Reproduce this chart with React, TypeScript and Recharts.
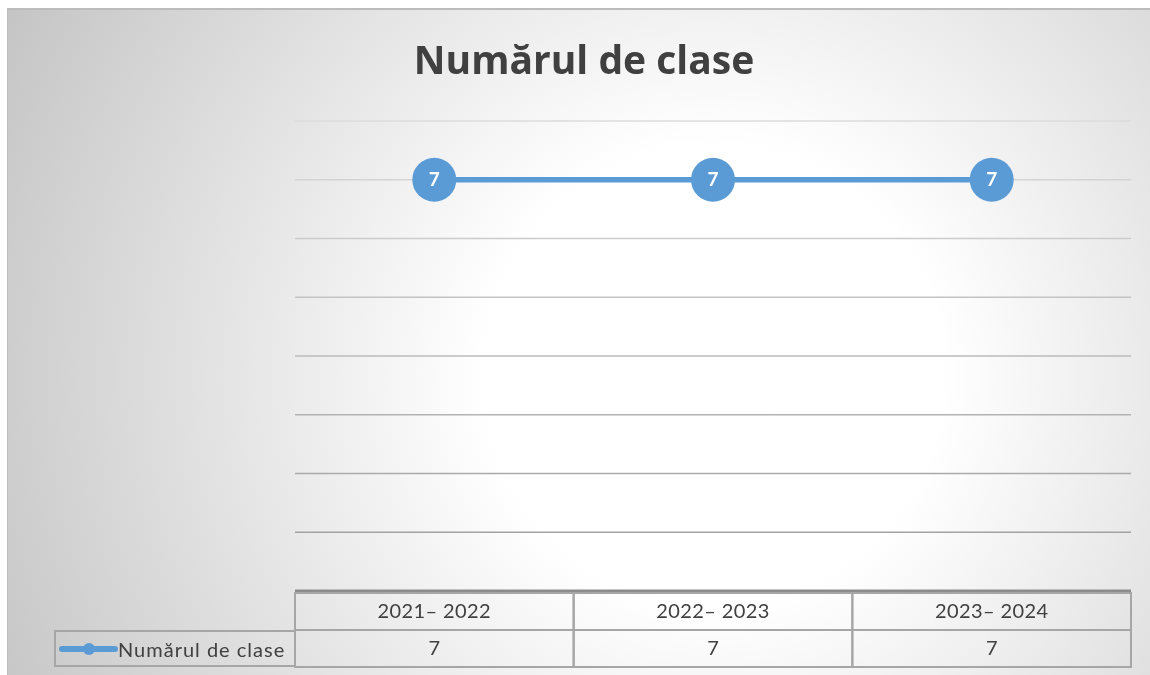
import { LineChart, Line, XAxis, YAxis, CartesianGrid, LabelList } from "recharts";

const title = "Numărul de clase";
const seriesName = "Numărul de clase";
const years = ["2021– 2022", "2022– 2023", "2023– 2024"];
const classCounts = [7, 7, 7];
const yTicks = [0, 1, 2, 3, 4, 5, 6, 7, 8];

const data = years.map((y, i) => ({ year: y, value: classCounts[i] }));

const BLUE = "#5b9bd5";
const BORDER = "#a6a6a6";
const TEXT = "#404040";
const FONT = "Lato, 'Open Sans', sans-serif";

const CELL_HALF = 139.3;

// draws the data table cells (header + value) under each category
const TableTick = (props: any) => {
  const { x, y, payload, index } = props;
  const v = classCounts[index];
  return (
    <g>
      <rect x={x - CELL_HALF} y={y + 2} width={CELL_HALF * 2} height={37} fill="none" stroke={BORDER} strokeWidth={2} />
      <rect x={x - CELL_HALF} y={y + 39} width={CELL_HALF * 2} height={37} fill="none" stroke={BORDER} strokeWidth={2} />
      <text x={x} y={y + 27} textAnchor="middle" fill={TEXT} fontSize={20} fontFamily={FONT} letterSpacing={0.4}>
        {payload.value}
      </text>
      <text x={x} y={y + 64} textAnchor="middle" fill={TEXT} fontSize={20} fontFamily={FONT}>
        {v}
      </text>
    </g>
  );
};

export default function App() {
  return (
    <div
      style={{
        position: "fixed",
        left: 7,
        top: 8,
        overflow: "hidden",
        width: 1143,
        height: 667,
        boxSizing: "border-box",
        borderTop: "2px solid #bcbcbc",
        borderLeft: "1px solid #bcbcbc",
        background: "radial-gradient(circle 820px at 706px 365px, #ffffff 0%, #ffffff 28%, #c2c2c2 100%)",
        fontFamily: FONT,
      }}
    >
      <div
        style={{
          position: "absolute",
          left: 10,
          top: 25,
          width: 1132,
          textAlign: "center",
          fontSize: 39,
          fontWeight: "bold",
          fontFamily: "'Open Sans', sans-serif",
          color: TEXT,
          lineHeight: "48px",
        }}
      >
        {title}
      </div>

      <div style={{ position: "absolute", left: 0, top: -1 }}>
        <LineChart width={1142} height={666} data={data} margin={{ top: 112, right: 19, bottom: 0, left: 287 }}>
          <defs>
            <linearGradient id="gridGrad" gradientUnits="userSpaceOnUse" x1="0" y1="112" x2="0" y2="582">
              <stop offset="0%" stopColor="#dcdcdc" />
              <stop offset="100%" stopColor="#9a9a9a" />
            </linearGradient>
          </defs>
          <CartesianGrid vertical={false} stroke="url(#gridGrad)" strokeWidth={1.6} />
          <XAxis
            dataKey="year"
            height={84}
            padding={{ left: CELL_HALF, right: CELL_HALF }}
            tickLine={false}
            tickSize={0}
            tickMargin={0}
            axisLine={{ stroke: "#8c8c8c", strokeWidth: 3 }}
            tick={<TableTick />}
            interval={0}
          />
          <YAxis hide width={0} domain={[0, 8]} ticks={yTicks} />
          <Line
            dataKey="value"
            name={seriesName}
            stroke={BLUE}
            strokeWidth={5.5}
            dot={{ r: 22, fill: BLUE, stroke: BLUE, strokeWidth: 0 }}
            isAnimationActive={false}
          >
            <LabelList dataKey="value" position="center" fill="#ffffff" fontSize={19} fontWeight="bold" fontFamily={FONT} />
          </Line>
        </LineChart>
      </div>

      {/* legend cell of the data table */}
      <div
        style={{
          position: "absolute",
          left: 46,
          top: 620,
          width: 242,
          height: 37,
          boxSizing: "border-box",
          border: `2px solid ${BORDER}`,
          borderRight: "none",
          display: "flex",
          alignItems: "center",
        }}
      >
        <svg width={62} height={20} style={{ marginLeft: 1 }}>
          <line x1={5} y1={10} x2={58} y2={10} stroke={BLUE} strokeWidth={6} strokeLinecap="round" />
          <circle cx={32} cy={10} r={6} fill={BLUE} />
        </svg>
        <span style={{ fontSize: 20, color: TEXT, marginLeft: -1, letterSpacing: 1, whiteSpace: "nowrap" }}>{seriesName}</span>
      </div>
    </div>
  );
}
